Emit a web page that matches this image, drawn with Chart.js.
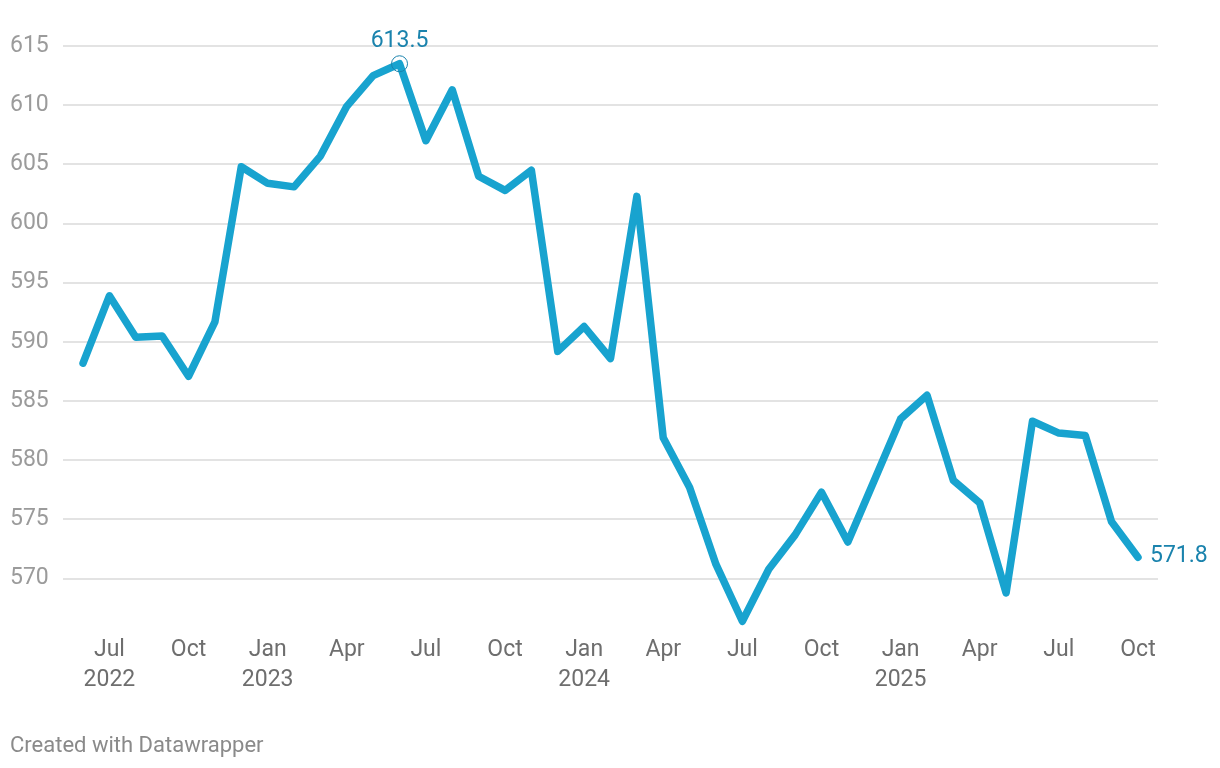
<!DOCTYPE html>
<html>
<head>
<meta charset="utf-8">
<script src="https://cdn.jsdelivr.net/npm/chart.js@4"></script>
<style>
  html, body { margin: 0; padding: 0; background: #fff; }
  #wrap { position: relative; width: 1220px; height: 768px; }
  #c { position: absolute; left: 0; top: 0; }
  #footer { position: absolute; left: 10px; top: 731px; font: 22px Roboto, sans-serif; color: #8a8a8a; line-height: 28px; }
</style>
</head>
<body>
<div id="wrap">
  <canvas id="c" width="1220" height="768"></canvas>
  <div id="footer">Created with Datawrapper</div>
</div>
<script>
// Monthly values, Jun 2022 – Oct 2025
const months = [
  "Jun 2022","Jul 2022","Aug 2022","Sep 2022","Oct 2022","Nov 2022","Dec 2022",
  "Jan 2023","Feb 2023","Mar 2023","Apr 2023","May 2023","Jun 2023","Jul 2023","Aug 2023","Sep 2023","Oct 2023","Nov 2023","Dec 2023",
  "Jan 2024","Feb 2024","Mar 2024","Apr 2024","May 2024","Jun 2024","Jul 2024","Aug 2024","Sep 2024","Oct 2024","Nov 2024","Dec 2024",
  "Jan 2025","Feb 2025","Mar 2025","Apr 2025","May 2025","Jun 2025","Jul 2025","Aug 2025","Sep 2025","Oct 2025"
];
const values = [
  588.2, 593.9, 590.4, 590.5, 587.1, 591.7, 604.8,
  603.4, 603.1, 605.7, 609.9, 612.5, 613.5, 607.0, 611.3, 604.0, 602.8, 604.5, 589.2,
  591.3, 588.6, 602.3, 581.9, 577.7, 571.2, 566.4, 570.8, 573.7, 577.3, 573.1, 578.3,
  583.5, 585.5, 578.3, 576.4, 568.8, 583.3, 582.3, 582.1, 574.8, 571.8
];
const xTickIndices = [1, 4, 7, 10, 13, 16, 19, 22, 25, 28, 31, 34, 37, 40];
const xTickLabels = [
  ["Jul","2022"], ["Oct"], ["Jan","2023"], ["Apr"], ["Jul"], ["Oct"], ["Jan","2024"],
  ["Apr"], ["Jul"], ["Oct"], ["Jan","2025"], ["Apr"], ["Jul"], ["Oct"]
];
const yTicks = [570, 575, 580, 585, 590, 595, 600, 605, 610, 615];
const annotated = [
  { index: 12, text: "613.5", pos: "top", circle: true },
  { index: 40, text: "571.8", pos: "right", circle: false }
];

const lineColor = "#18a3cf";
const labelColor = "#1a83ad";

const annotationPlugin = {
  id: "annotations",
  afterDatasetsDraw(chart) {
    const ctx = chart.ctx;
    const xs = chart.scales.x, ys = chart.scales.y;
    ctx.save();
    ctx.font = "23px Roboto, sans-serif";
    ctx.fillStyle = labelColor;
    annotated.forEach(a => {
      const px = xs.getPixelForValue(a.index);
      const py = ys.getPixelForValue(values[a.index]);
      if (a.circle) {
        ctx.beginPath();
        ctx.arc(px, py, 8, 0, Math.PI * 2);
        ctx.strokeStyle = labelColor;
        ctx.lineWidth = 1;
        ctx.stroke();
      }
      if (a.pos === "top") {
        ctx.textAlign = "center";
        ctx.textBaseline = "middle";
        ctx.fillText(a.text, px, py - 22.5);
      } else {
        ctx.textAlign = "left";
        ctx.textBaseline = "middle";
        ctx.fillText(a.text, px + 12, py - 1);
      }
    });
    ctx.restore();
  }
};

new Chart(document.getElementById("c"), {
  type: "line",
  data: {
    datasets: [{
      data: values.map((v, i) => ({ x: i, y: v })),
      borderColor: lineColor,
      borderWidth: 7.5,
      pointRadius: 0,
      tension: 0,
      borderCapStyle: "round",
      borderJoinStyle: "round"
    }]
  },
  options: {
    responsive: false,
    animation: false,
    layout: { padding: { left: 10, right: 62, top: 46, bottom: 62 } },
    plugins: { legend: { display: false }, tooltip: { enabled: false } },
    scales: {
      x: {
        type: "linear",
        min: -0.76,
        max: 40.76,
        afterBuildTicks(scale) { scale.ticks = xTickIndices.map(v => ({ value: v })); },
        afterFit(scale) { scale.height = 80; },
        ticks: {
          autoSkip: false,
          maxRotation: 0,
          padding: 10,
          color: "#6e6e6e",
          font: { family: "Roboto", size: 23, lineHeight: 1.28 },
          callback(value) {
            const i = xTickIndices.indexOf(value);
            return i >= 0 ? xTickLabels[i] : "";
          }
        },
        grid: { display: false, drawTicks: false },
        border: { display: false }
      },
      y: {
        min: 566,
        max: 615,
        afterBuildTicks(scale) { scale.ticks = yTicks.map(v => ({ value: v })); },
        afterFit(scale) { scale.width = 53; },
        ticks: {
          crossAlign: "far",
          padding: 0,
          color: "#9b9b9b",
          font: { family: "Roboto", size: 23 }
        },
        grid: { color: "#e3e3e3", lineWidth: 2, drawTicks: false },
        border: { display: false }
      }
    }
  },
  plugins: [annotationPlugin]
});
</script>
</body>
</html>
